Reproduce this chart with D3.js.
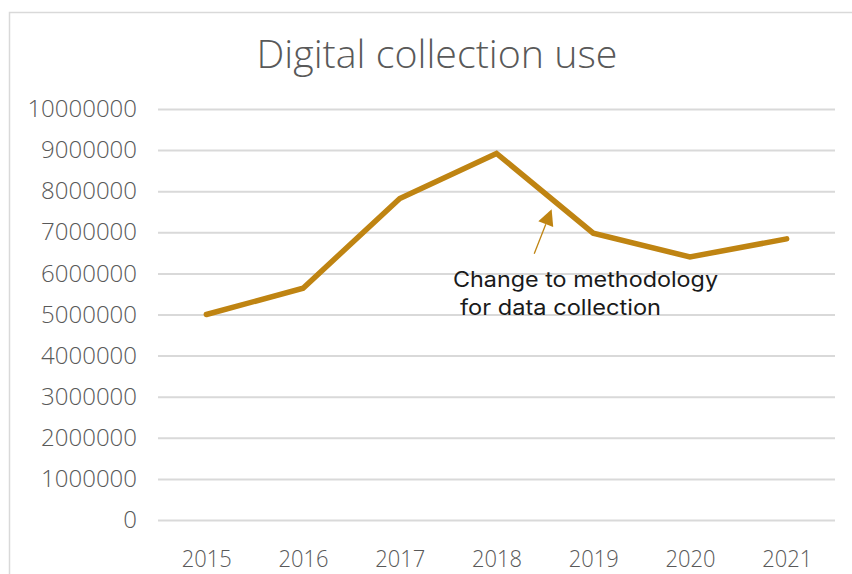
<!DOCTYPE html>
<html><head><meta charset="utf-8">
<script src="https://cdn.jsdelivr.net/npm/d3@7"></script>
<style>html,body{margin:0;padding:0;background:#fff;}svg{display:block;}</style>
</head><body>
<svg id="chart" width="852" height="574"></svg>
<script>
const years = ["2015","2016","2017","2018","2019","2020","2021"];
const uses = [5000000, 5640000, 7820000, 8920000, 6980000, 6400000, 6840000];
const yTicks = [0,1000000,2000000,3000000,4000000,5000000,6000000,7000000,8000000,9000000,10000000];
const title = "Digital collection use";
const noteLines = ["Change to methodology", " for data collection"];

const svg = d3.select("#chart");
const plot = {left: 158, right: 835, top: 109, bottom: 520};
const gold = "#BF8412";
const grey = "#595959";
const lightFont = "'Open Sans', 'DejaVu Sans', sans-serif";

svg.append("rect").attr("x", 9.5).attr("y", 12.5).attr("width", 900).attr("height", 700)
  .attr("fill", "#fff").attr("stroke", "#d9d9d9").attr("stroke-width", 1.5);

const x = d3.scalePoint().domain(years).range([plot.left, plot.right]).padding(0.5);
const y = d3.scaleLinear().domain([0, 10000000]).range([plot.bottom, plot.top]);

svg.append("text").attr("x", 437).attr("y", 68).attr("text-anchor", "middle")
  .attr("font-family", lightFont).attr("font-size", 38)
  .attr("font-weight", 300)
  .attr("fill", grey).attr("textLength", 361).attr("lengthAdjust", "spacingAndGlyphs")
  .text(title);

const yAxis = d3.axisLeft(y).tickValues(yTicks).tickFormat(d3.format("d"))
  .tickSize(-(plot.right - plot.left)).tickPadding(21);
const gy = svg.append("g").attr("transform", `translate(${plot.left},0)`).call(yAxis);
gy.select(".domain").remove();
gy.selectAll(".tick line").attr("stroke", "#d9d9d9").attr("stroke-width", 2);
gy.selectAll(".tick text").attr("font-family", lightFont).attr("font-size", 24)
  .attr("font-weight", 300).attr("fill", grey);

const xAxis = d3.axisBottom(x).tickSize(0).tickPadding(30);
const gx = svg.append("g").attr("transform", `translate(0,${plot.bottom})`).call(xAxis);
gx.select(".domain").remove();
gx.selectAll(".tick text").attr("font-family", lightFont).attr("font-size", 24)
  .attr("font-weight", 300).attr("fill", grey)
  .attr("textLength", 50).attr("lengthAdjust", "spacingAndGlyphs");

const line = d3.line().x((d, i) => x(years[i])).y(d => y(d));
svg.append("path").datum(uses).attr("d", line).attr("fill", "none")
  .attr("stroke", gold).attr("stroke-width", 5.5).attr("stroke-linejoin", "miter").attr("stroke-linecap", "round");

// annotation arrow, positioned through the scales
const step = x.step();
const tail = [x("2018") + 0.39 * step, y(6480000)];
const tip = [x("2018") + 0.57 * step, y(7560000)];
const ang = Math.atan2(tip[1] - tail[1], tip[0] - tail[0]);
const hl = 16, hw = 8;
const bx = tip[0] - hl * Math.cos(ang), by = tip[1] - hl * Math.sin(ang);
svg.append("line").attr("x1", tail[0]).attr("y1", tail[1]).attr("x2", bx).attr("y2", by)
  .attr("stroke", gold).attr("stroke-width", 1.3);
svg.append("path").attr("d", `M${tip[0]},${tip[1]} L${bx + hw * Math.sin(ang)},${by - hw * Math.cos(ang)} L${bx - hw * Math.sin(ang)},${by + hw * Math.cos(ang)} Z`)
  .attr("fill", gold);

const note = svg.append("text").attr("font-family", "Inter, sans-serif").attr("font-size", 21).attr("fill", "#1a1a1a");
note.append("tspan").attr("x", 453).attr("y", 287).attr("textLength", 265).attr("lengthAdjust", "spacingAndGlyphs").text(noteLines[0]);
note.append("tspan").attr("x", 460).attr("y", 315).attr("textLength", 201).attr("lengthAdjust", "spacingAndGlyphs").text(noteLines[1].trim());
</script>
</body></html>
